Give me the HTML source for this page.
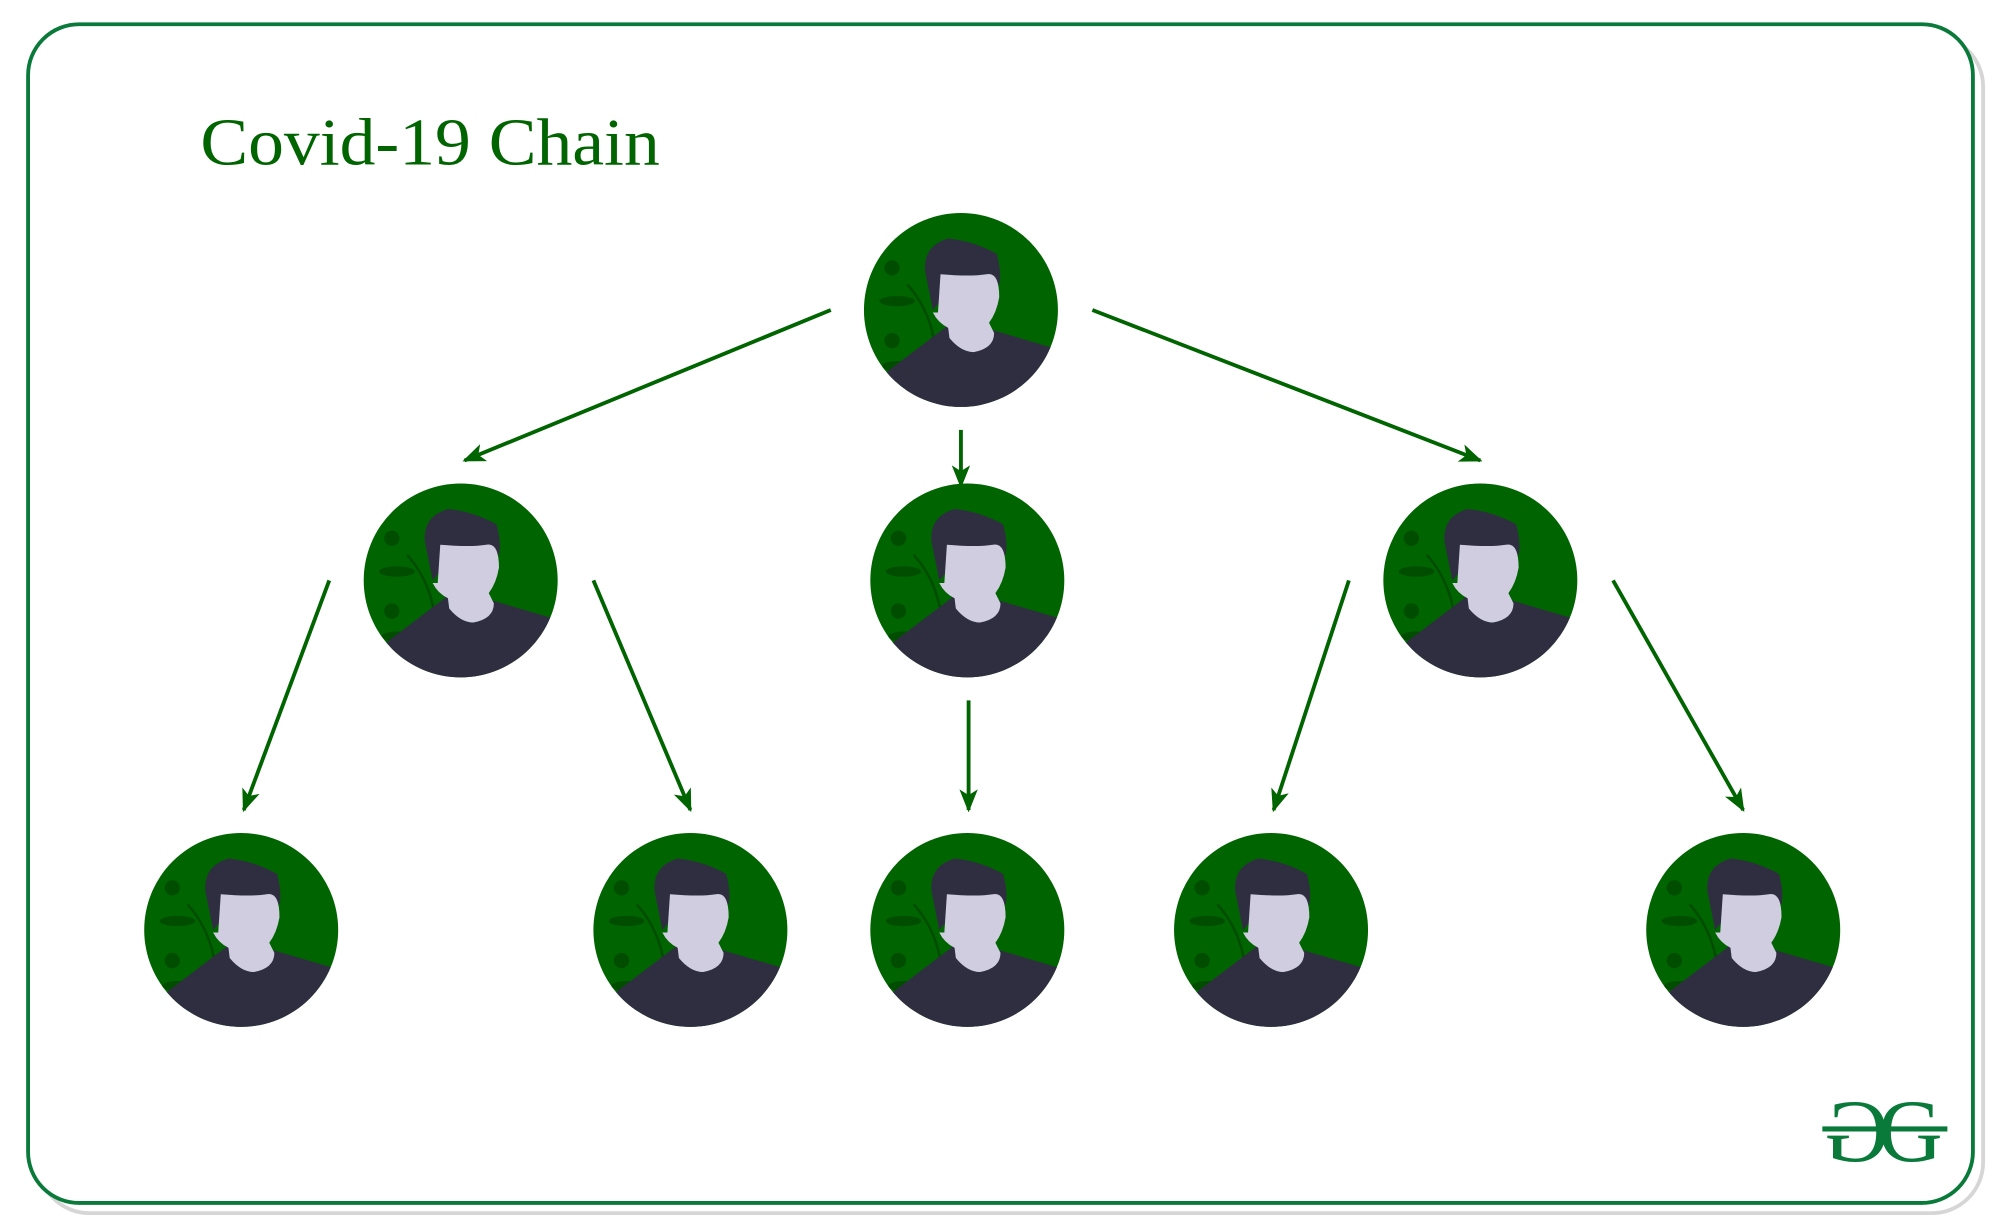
<!DOCTYPE html>
<html><head><meta charset="utf-8"><style>
html,body{margin:0;padding:0;background:#fff;}
svg{display:block;}
</style></head><body>
<svg width="2001" height="1231" viewBox="0 0 1568 965" preserveAspectRatio="none" xmlns="http://www.w3.org/2000/svg">
<defs>
<marker id="ah" viewBox="0 0 20 16" refX="18" refY="8" markerWidth="6" markerHeight="5" orient="auto" markerUnits="strokeWidth">
<path d="M0,0 L20,8 L0,16 L5,8 Z" fill="#006400"/>
</marker>
<clipPath id="cc"><circle cx="0" cy="0" r="76"/></clipPath>
<g id="av">
<circle cx="0" cy="0" r="76" fill="#006400"/>
<g clip-path="url(#cc)">
<circle cx="-54" cy="-33" r="6" fill="#004d00"/>
<circle cx="-54" cy="24" r="6" fill="#004d00"/>
<ellipse cx="-50" cy="-7" rx="14" ry="4" fill="#004d00"/>
<ellipse cx="-50" cy="44" rx="12" ry="4" fill="#004d00"/>
<path d="M-42,-20 Q-15,10 -20,60" stroke="#004d00" stroke-width="2" fill="none"/>
<path d="M-90,100 L-60,50 L-10,12 L12,12 L80,32 L90,100 Z" fill="#2f2e41"/>
<path d="M-28,-30 Q-30,-50 -10,-56 Q10,-54 28,-44 Q32,-30 30,-20 L-10,-14 L-22,0 Z" fill="#2f2e41"/>
<path d="M-16,-28 Q8,-26 20,-28 Q30,-30 30,-10 Q28,2 22,10 L26,18 Q26,30 10,33 Q0,33 -9,22 L-10,14 Q-18,10 -22,2 L-18,2 Z" fill="#d0cde1"/>
</g>
</g>
</defs>
<rect x="30" y="28" width="1524" height="923" rx="40" fill="none" stroke="#d6d6d6" stroke-width="3"/>
<rect x="22" y="19" width="1524" height="924" rx="40" fill="#fff" stroke="#0a7a3a" stroke-width="3"/>
<text x="157" y="129" font-family="Liberation Serif, serif" font-size="52" fill="#006400" textLength="360" lengthAdjust="spacingAndGlyphs">Covid-19 Chain</text>
<use href="#av" x="753" y="243"/>
<use href="#av" x="361" y="455"/>
<use href="#av" x="758" y="455"/>
<use href="#av" x="1160" y="455"/>
<use href="#av" x="189" y="729"/>
<use href="#av" x="541" y="729"/>
<use href="#av" x="758" y="729"/>
<use href="#av" x="996" y="729"/>
<use href="#av" x="1366" y="729"/>
<g stroke="#006400" stroke-width="3" fill="none" marker-end="url(#ah)">
<line x1="651" y1="243" x2="364" y2="361"/>
<line x1="856" y1="243" x2="1160" y2="361"/>
<line x1="753" y1="337" x2="753" y2="381"/>
<line x1="258" y1="455" x2="191" y2="635"/>
<line x1="465" y1="455" x2="541" y2="635"/>
<line x1="759" y1="549" x2="759" y2="635"/>
<line x1="1057" y1="455" x2="998" y2="635"/>
<line x1="1264" y1="455" x2="1366" y2="635"/>
</g>
<g fill="#0a7a3a" font-family="Liberation Serif, serif" font-size="70">
<text x="1455" y="910" transform="translate(2910,0) scale(-1,1)" text-anchor="middle">G</text>
<text x="1497" y="910" text-anchor="middle">G</text>
</g>
<rect x="1428" y="883" width="98" height="4" fill="#0a7a3a"/>
</svg>
</body></html>
